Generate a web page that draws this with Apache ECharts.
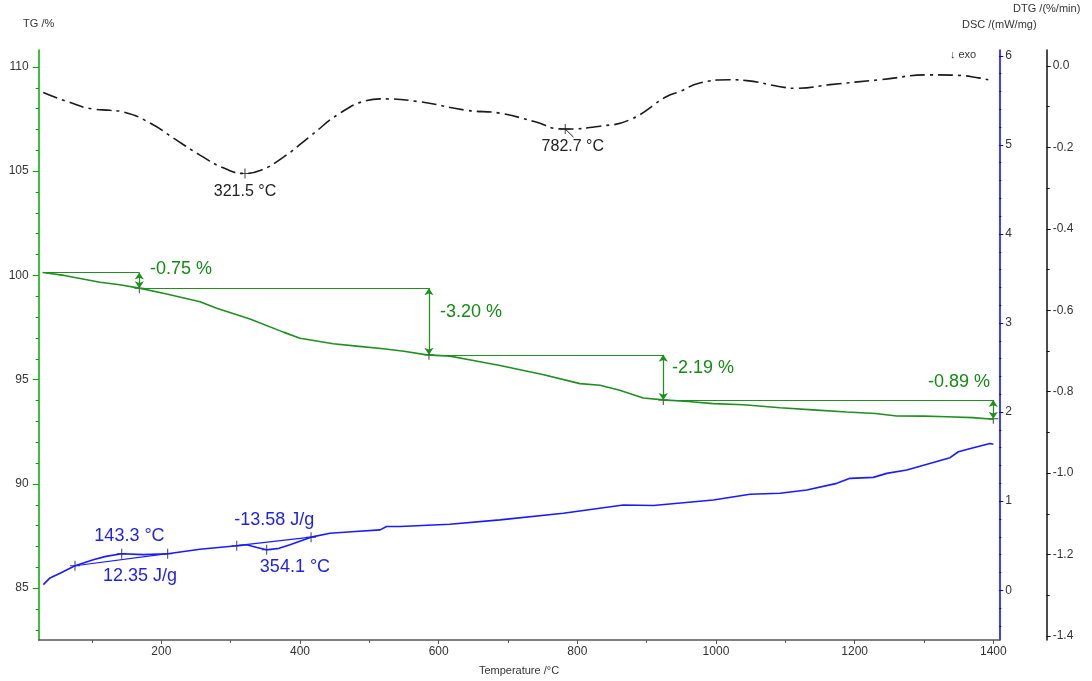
<!DOCTYPE html>
<html>
<head>
<meta charset="utf-8">
<title>TG / DSC / DTG</title>
<script src="https://cdn.jsdelivr.net/npm/echarts@6/dist/echarts.min.js"></script>
<style>
    html, body { margin: 0; padding: 0; background: #fff; }
    #chart { width: 1092px; height: 681px; }
</style>
</head>
<body>
<div id="chart"></div>
<script>
// axis tick labels
const tempTicks = [200, 400, 600, 800, 1000, 1200, 1400];
const tgTicks = [85, 90, 95, 100, 105, 110];
const dscTicks = [0, 1, 2, 3, 4, 5, 6];
const dtgTicks = [0.0, -0.2, -0.4, -0.6, -0.8, -1.0, -1.2, -1.4];

// TG curve [temperature, %]
const tgCurve = [
    [28.9, 100.14], [60, 100.0], [111.6, 99.67], [140, 99.55], [168.3, 99.39],
    [207.8, 99.11], [255.8, 98.74], [279.9, 98.42], [327.9, 97.91], [376, 97.28],
    [400, 96.99], [448, 96.72], [481.8, 96.61], [520.2, 96.48], [550, 96.36],
    [582.8, 96.19], [616.4, 96.13], [650, 95.92], [688.5, 95.68], [750, 95.25],
    [803.9, 94.81], [832.7, 94.73], [860, 94.5], [895.2, 94.12], [924, 94.03],
    [960, 93.95], [996.2, 93.85], [1040, 93.8], [1092.4, 93.65], [1140, 93.55],
    [1188.6, 93.45], [1230, 93.38], [1260.7, 93.26], [1300, 93.25], [1332.8, 93.22],
    [1370, 93.18], [1400, 93.10]
];

// DSC curve [temperature, mW/mg]
const dscCurve = [
    [29.8, 0.063], [39.5, 0.138], [54, 0.19], [75.5, 0.275], [101.9, 0.342],
    [120, 0.38], [142.9, 0.41], [174.1, 0.40], [209.2, 0.41], [255.8, 0.46],
    [308.8, 0.50], [323, 0.51], [338, 0.48], [352, 0.454], [370, 0.47],
    [385.6, 0.51], [416, 0.596], [443.3, 0.64], [480, 0.66], [515.5, 0.678],
    [525, 0.716], [544.6, 0.716], [616, 0.74], [688.5, 0.79], [779.8, 0.865],
    [866.4, 0.957], [909.6, 0.951], [996.2, 1.013], [1049.1, 1.077], [1092.4, 1.088],
    [1131, 1.125], [1174.2, 1.20], [1193.4, 1.256], [1227, 1.267], [1246.3, 1.312],
    [1275.2, 1.349], [1337.6, 1.488], [1349.6, 1.555], [1371.3, 1.60], [1395.3, 1.648],
    [1400, 1.64]
];

// DTG curve [temperature, %/min]
const dtgCurve = [
    [29.8, -0.065], [63.6, -0.087], [101.9, -0.106], [126, -0.109], [145.2, -0.113],
    [183.7, -0.140], [217.3, -0.177], [255.8, -0.219], [294.3, -0.254], [320.7, -0.264],
    [342.4, -0.257], [376, -0.224], [414.5, -0.173], [457.8, -0.116], [496.3, -0.085],
    [515.5, -0.081], [568.4, -0.087], [640.5, -0.109], [688.5, -0.116], [736.6, -0.136],
    [779.8, -0.155], [832.7, -0.148], [876, -0.132], [929, -0.075], [947.8, -0.063],
    [976.6, -0.042], [1020, -0.034], [1044.4, -0.036], [1092.4, -0.051], [1116.5, -0.055],
    [1164.5, -0.046], [1236.6, -0.034], [1308.7, -0.022], [1347.2, -0.023], [1380.9, -0.030],
    [1392.8, -0.034]
];

// TG mass loss steps
const stepTemp = [28.9, 168.3, 586, 924, 1400];
const stepTG = [100.14, 99.39, 96.19, 94.03, 93.13];
const stepLabels = ['-0.75 %', '-3.20 %', '-2.19 %', '-0.89 %'];
const stepLabelAt = [[183.7, 100.3], [602, 98.25], [936.6, 95.55], [1305.8, 94.9]];

// DSC peak evaluation
const dscBaselines = [[[75.5, 0.275], [209.2, 0.41]], [[308.8, 0.50], [416, 0.596]]];
const dscMarks = [[75.5, 0.275], [142.9, 0.41], [209.2, 0.41], [308.8, 0.50], [352, 0.454], [416, 0.596]];
const dscLabels = ['143.3 °C', '12.35 J/g', '-13.58 J/g', '354.1 °C'];
const dscLabelAt = [[154.1, 0.604], [169.3, 0.157], [363, 0.79], [392.8, 0.257]];

// DTG peaks
const dtgMarks = [[320.7, -0.264], [782.6, -0.155]];
const dtgLeader = [[782.6, -0.155], [794.6, -0.175]];
const dtgLabels = ['321.5 °C', '782.7 °C', '↓ exo'];
const dtgLabelAt = [[320.7, -0.3075], [793.5, -0.199], [1356.4, 0.027]];

const GREEN = '#1f8f1f';
const GREEN_TEXT = '#138a13';
const BLUE = '#1a1aff';
const BLUE_TEXT = '#1f1fe6';
const FONT = '"Liberation Sans", Arial, sans-serif';
const PLUS = 'path://M0,4.5H10V5.5H0Z M4.5,0H5.5V10H4.5Z';

function range(a, b, step) {
    const out = [];
    for (let v = a; v <= b + 1e-9; v += step) out.push(Math.round(v * 100) / 100);
    return out;
}

function minorAxis(base, values, color, len) {
    return Object.assign({
        type: 'value',
        axisLine: { show: false, onZero: false },
        axisTick: { show: true, length: len, customValues: values, lineStyle: { color: color } },
        axisLabel: { show: false },
        splitLine: { show: false }
    }, base);
}

function labelSeries(yIndex, names, coords, color, size, align) {
    return {
        type: 'scatter',
        yAxisIndex: yIndex,
        silent: true,
        symbolSize: 0.1,
        itemStyle: { color: 'rgba(0,0,0,0)' },
        label: {
            show: true,
            position: 'inside',
            formatter: '{b}',
            color: color,
            opacity: 1,
            fontSize: size,
            fontFamily: FONT,
            align: align
        },
        data: names.map((n, i) => ({ name: n, value: coords[i] }))
    };
}

function plusSeries(yIndex, points) {
    return {
        type: 'scatter',
        yAxisIndex: yIndex,
        silent: true,
        symbol: PLUS,
        symbolSize: 10,
        itemStyle: { color: '#111' },
        data: points
    };
}

// step lines (horizontal) and double arrows (vertical)
const stepMarkLines = [];
for (let i = 0; i < stepLabels.length; i++) {
    stepMarkLines.push([
        { coord: [stepTemp[i], stepTG[i]], symbol: 'none' },
        { coord: [stepTemp[i + 1], stepTG[i]], symbol: 'none' }
    ]);
    stepMarkLines.push([
        { coord: [stepTemp[i + 1], stepTG[i]], symbol: 'arrow' },
        { coord: [stepTemp[i + 1], stepTG[i + 1]], symbol: 'arrow' }
    ]);
}

const chart = echarts.init(document.getElementById('chart'));
const xMin = 23.16, xMax = 1408.65;

const option = {
    animation: false,
    textStyle: { fontFamily: FONT },
    grid: { left: 38.7, right: 92.7, top: 50, bottom: 38.7 },
    xAxis: [
        {
            type: 'value',
            min: xMin,
            max: xMax,
            name: 'Temperature /°C',
            nameLocation: 'middle',
            nameGap: 25,
            nameTextStyle: { color: '#333', fontSize: 11 },
            axisLine: { show: true, onZero: false, lineStyle: { color: '#555', width: 1.5 } },
            axisTick: { show: true, length: 4, customValues: tempTicks, lineStyle: { color: '#555' } },
            axisLabel: {
                customValues: tempTicks,
                color: '#333',
                fontSize: 12,
                margin: 6,
                formatter: v => String(v)
            },
            splitLine: { show: false }
        },
        minorAxis({ min: xMin, max: xMax, position: 'bottom' }, range(100, 1300, 200), '#555', 3)
    ],
    yAxis: [
        {
            type: 'value',
            position: 'left',
            min: 82.513,
            max: 110.812,
            name: 'TG /%',
            nameLocation: 'end',
            nameGap: 21,
            nameTextStyle: { color: '#333', fontSize: 11 },
            axisLine: { show: true, onZero: false, lineStyle: { color: '#00a800', width: 1.5 } },
            axisTick: { show: true, length: 6, customValues: tgTicks, lineStyle: { color: '#00a800' } },
            axisLabel: { customValues: tgTicks, color: '#333', fontSize: 12, margin: 10 },
            splitLine: { show: false }
        },
        {
            type: 'value',
            position: 'right',
            offset: 0,
            min: -0.559,
            max: 6.066,
            name: 'DSC /(mW/mg)',
            nameLocation: 'end',
            nameGap: 20,
            nameTextStyle: { color: '#333', fontSize: 11 },
            axisLine: { show: true, onZero: false, lineStyle: { color: '#0000ff', width: 1.5 } },
            axisTick: { show: true, length: 4, customValues: dscTicks, lineStyle: { color: '#0000ff' } },
            axisLabel: { customValues: dscTicks, color: '#333', fontSize: 12, margin: 6 },
            splitLine: { show: false }
        },
        {
            type: 'value',
            position: 'right',
            offset: 47.4,
            min: -1.4097,
            max: 0.0391,
            name: 'DTG /(%/min)',
            nameLocation: 'end',
            nameGap: 36,
            nameTextStyle: { color: '#333', fontSize: 11 },
            axisLine: { show: true, onZero: false, lineStyle: { color: '#111', width: 1.5 } },
            axisTick: { show: true, length: 4, customValues: dtgTicks, lineStyle: { color: '#111' } },
            axisLabel: {
                customValues: dtgTicks,
                color: '#333',
                fontSize: 12,
                margin: 6,
                formatter: v => v.toFixed(1)
            },
            splitLine: { show: false }
        },
        minorAxis({ min: 82.513, max: 110.812, position: 'left' },
            range(83, 110, 1).filter(v => v % 5 !== 0), '#00a800', 3),
        minorAxis({ min: -0.559, max: 6.066, position: 'right', offset: 0 },
            range(-0.4, 6, 0.2), '#0000ff', 2),
        minorAxis({ min: -1.4097, max: 0.0391, position: 'right', offset: 47.4 },
            range(-1.3, -0.1, 0.2), '#111', 3)
    ],
    series: [
        {
            name: 'TG',
            type: 'line',
            yAxisIndex: 0,
            symbol: 'none',
            lineStyle: { color: GREEN, width: 1.6 },
            data: tgCurve,
            markLine: {
                silent: true,
                symbolSize: 7,
                label: { show: false },
                lineStyle: { color: GREEN, width: 1.2, type: 'solid' },
                data: stepMarkLines
            }
        },
        {
            name: 'DSC',
            type: 'line',
            yAxisIndex: 1,
            symbol: 'none',
            lineStyle: { color: BLUE, width: 1.6 },
            data: dscCurve,
            markLine: {
                silent: true,
                symbol: 'none',
                label: { show: false },
                lineStyle: { color: BLUE, width: 1.2, type: 'solid' },
                data: dscBaselines.map(seg => [{ coord: seg[0] }, { coord: seg[1] }])
            }
        },
        {
            name: 'DTG',
            type: 'line',
            yAxisIndex: 2,
            symbol: 'none',
            smooth: 0.5,
            lineStyle: { color: '#1a1a1a', width: 1.6, type: [15, 5, 3, 5] },
            data: dtgCurve
        },
        {
            type: 'line',
            yAxisIndex: 2,
            symbol: 'none',
            silent: true,
            lineStyle: { color: '#1a1a1a', width: 1 },
            data: dtgLeader
        },
        plusSeries(0, stepTemp.slice(1).map((t, i) => [t, stepTG[i + 1]])),
        plusSeries(1, dscMarks),
        plusSeries(2, dtgMarks),
        labelSeries(0, stepLabels, stepLabelAt, GREEN_TEXT, 18, 'left'),
        labelSeries(1, dscLabels, dscLabelAt, BLUE_TEXT, 18, 'center'),
        labelSeries(2, dtgLabels.slice(0, 2), dtgLabelAt.slice(0, 2), '#222', 16, 'center'),
        labelSeries(2, dtgLabels.slice(2), dtgLabelAt.slice(2), '#333', 11, 'center')
    ]
};

chart.setOption(option);
</script>
</body>
</html>
